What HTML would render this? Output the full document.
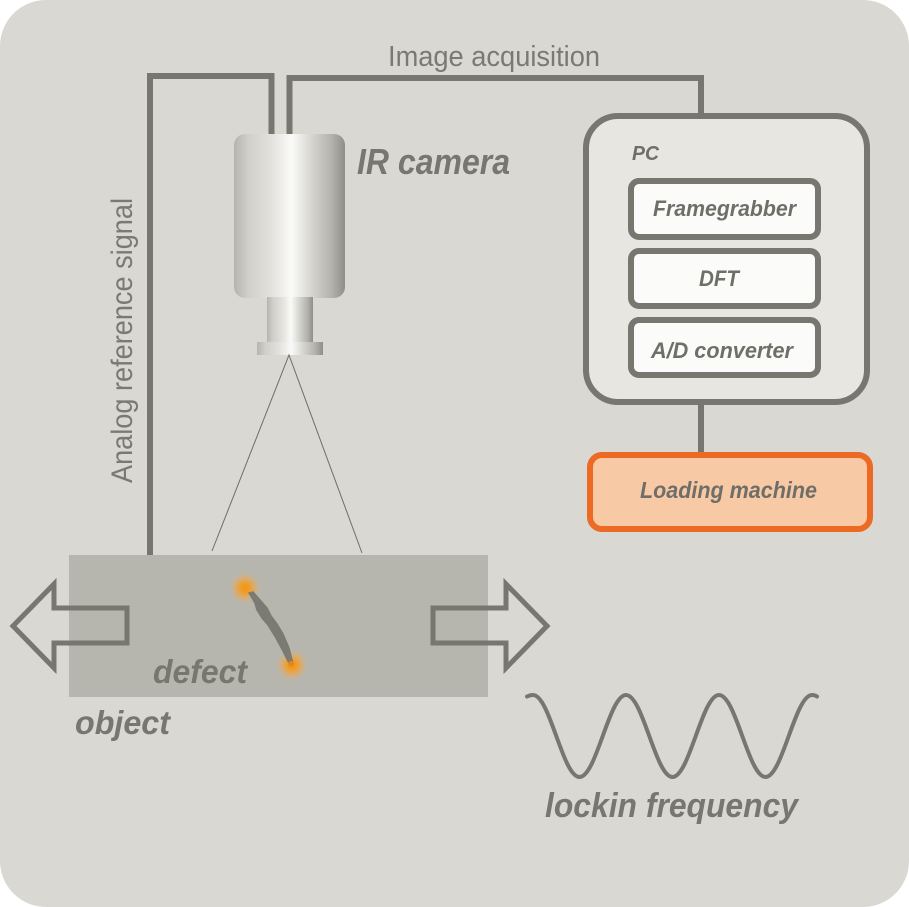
<!DOCTYPE html>
<html><head><meta charset="utf-8"><style>
html,body{margin:0;padding:0;background:#fff;}
svg{display:block;}
text{font-family:"Liberation Sans",sans-serif;}
</style></head><body>
<svg width="909" height="907" viewBox="0 0 909 907" xmlns="http://www.w3.org/2000/svg">
<defs>
<linearGradient id="cam" x1="0" y1="0" x2="1" y2="0">
<stop offset="0" stop-color="#b5b4ad"/>
<stop offset="0.12" stop-color="#cfcec9"/>
<stop offset="0.35" stop-color="#e4e3df"/>
<stop offset="0.52" stop-color="#fafaf8"/>
<stop offset="0.7" stop-color="#d6d5d0"/>
<stop offset="0.88" stop-color="#b3b2ab"/>
<stop offset="1" stop-color="#8f8e88"/>
</linearGradient>
<radialGradient id="glow">
<stop offset="0" stop-color="#f0920c" stop-opacity="1"/>
<stop offset="0.35" stop-color="#efa030" stop-opacity="0.95"/>
<stop offset="0.6" stop-color="#e2aa62" stop-opacity="0.7"/>
<stop offset="0.85" stop-color="#c9b295" stop-opacity="0.35"/>
<stop offset="1" stop-color="#b6b5ad" stop-opacity="0"/>
</radialGradient>
</defs>
<rect x="0" y="0" width="909" height="907" rx="46" fill="#d9d8d2"/>

<!-- wires -->
<path d="M150,555 V76 H271.5 V134" fill="none" stroke="#77766f" stroke-width="6"/>
<path d="M289.5,134 V78 H701 V116" fill="none" stroke="#77766f" stroke-width="6"/>
<path d="M701,402 V455" fill="none" stroke="#77766f" stroke-width="6"/>

<!-- Image acquisition -->
<text x="388" y="66" font-size="29" fill="#7a7972" textLength="212" lengthAdjust="spacingAndGlyphs">Image acquisition</text>
<!-- Analog reference signal -->
<text transform="translate(132,483) rotate(-90)" font-size="30" fill="#7a7972" textLength="285" lengthAdjust="spacingAndGlyphs">Analog reference signal</text>

<!-- camera -->
<rect x="234" y="134" width="111" height="164" rx="11" fill="url(#cam)"/>
<rect x="267" y="297" width="46" height="46" fill="url(#cam)"/>
<rect x="257" y="342" width="66" height="13" fill="url(#cam)"/>
<text x="357" y="174" font-size="36" font-weight="bold" font-style="italic" fill="#77766f" textLength="153" lengthAdjust="spacingAndGlyphs">IR camera</text>

<!-- cone -->
<path d="M212,551 L289,355 L362,553" fill="none" stroke="#6e6d67" stroke-width="1"/>

<!-- object -->
<rect x="69" y="555" width="419" height="142" fill="#b7b6ae"/>
<!-- arrows -->
<path d="M127,608 H54 V584 L13,626 L54,668 V643 H127 Z" fill="none" stroke="#77766f" stroke-width="5" stroke-linejoin="miter"/>
<path d="M433,608 H506 V584 L547,626 L506,668 V643 H433 Z" fill="none" stroke="#77766f" stroke-width="5" stroke-linejoin="miter"/>

<!-- defect -->
<circle cx="245" cy="588" r="17" fill="url(#glow)"/>
<circle cx="292" cy="665" r="17" fill="url(#glow)"/>
<path d="M249,593 L255,603 L257,610 L262,618 L268,625 L276,638 L283,651 L290,665 L293,664 L289,648 L283,634 L277,624 L271,616 L267,608 L260,600 L253,592 Z" fill="#7b7a73" stroke="#7b7a73" stroke-width="1.5" stroke-linejoin="round"/>
<circle cx="291" cy="664" r="3" fill="#f08a10" opacity="0.85"/>
<circle cx="246" cy="589" r="3.5" fill="#f09a20" opacity="0.8"/>

<text x="153" y="683" font-size="33" font-weight="bold" font-style="italic" fill="#77766f" textLength="94" lengthAdjust="spacingAndGlyphs">defect</text>
<text x="75" y="734" font-size="33" font-weight="bold" font-style="italic" fill="#77766f" textLength="95" lengthAdjust="spacingAndGlyphs">object</text>

<!-- PC -->
<rect x="586" y="116" width="281" height="286" rx="32" fill="#e7e6e1" stroke="#77766f" stroke-width="6"/>
<text x="632" y="160" font-size="20" font-weight="bold" font-style="italic" fill="#6f6e68" textLength="27" lengthAdjust="spacingAndGlyphs">PC</text>
<rect x="631" y="181" width="187" height="56" rx="8" fill="#fbfbf9" stroke="#77766f" stroke-width="6"/>
<rect x="631" y="251" width="187" height="55" rx="8" fill="#fbfbf9" stroke="#77766f" stroke-width="6"/>
<rect x="631" y="320" width="187" height="55" rx="8" fill="#fbfbf9" stroke="#77766f" stroke-width="6"/>
<text x="653" y="216" font-size="22" font-weight="bold" font-style="italic" fill="#6f6e68" textLength="143" lengthAdjust="spacingAndGlyphs">Framegrabber</text>
<text x="699" y="286" font-size="22" font-weight="bold" font-style="italic" fill="#6f6e68" textLength="40" lengthAdjust="spacingAndGlyphs">DFT</text>
<text x="651" y="358" font-size="22" font-weight="bold" font-style="italic" fill="#6f6e68" textLength="142" lengthAdjust="spacingAndGlyphs">A/D converter</text>

<!-- Loading machine -->
<rect x="590" y="455" width="280" height="74" rx="12" fill="#f8c9a5" stroke="#ec6a24" stroke-width="6"/>
<text x="640" y="498" font-size="23" font-weight="bold" font-style="italic" fill="#6f6e68" textLength="177" lengthAdjust="spacingAndGlyphs">Loading machine</text>

<!-- wave -->
<path fill="none" stroke="#77766f" stroke-width="4" stroke-linecap="round" d="M527,696.5 Q530,695 533,695 C549.9,695 562.6,777 579.5,777 C596.4,777 609.1,695 626,695 C642.9,695 655.6,777 672.5,777 C689.4,777 702.1,695 719,695 C735.9,695 748.6,777 765.5,777 C782.4,777 795.1,695 812,695 Q815,695 817,696.5"/>
<text x="545" y="817" font-size="34" font-weight="bold" font-style="italic" fill="#77766f" textLength="253" lengthAdjust="spacingAndGlyphs">lockin frequency</text>
</svg>
</body></html>
